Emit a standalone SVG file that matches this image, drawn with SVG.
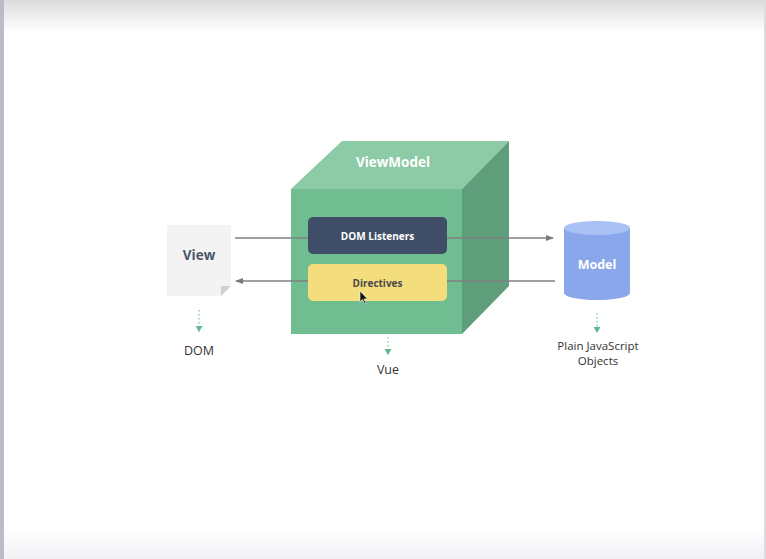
<svg xmlns="http://www.w3.org/2000/svg" width="766" height="559" viewBox="0 0 766 559">
<defs>
<linearGradient id="topg" x1="0" y1="0" x2="0" y2="1">
<stop offset="0" stop-color="#dcdcdc"/>
<stop offset="1" stop-color="#ffffff"/>
</linearGradient>
<linearGradient id="botg" x1="0" y1="0" x2="0" y2="1">
<stop offset="0" stop-color="#ffffff"/>
<stop offset="1" stop-color="#f1f0f4"/>
</linearGradient>
<marker id="ah" markerWidth="8" markerHeight="8" refX="7" refY="4" orient="auto" markerUnits="userSpaceOnUse">
<path d="M0,1 L8,4 L0,7 Z" fill="#7a7a7a"/>
</marker>
<marker id="gh" markerWidth="7" markerHeight="7" refX="6" refY="3.5" orient="auto" markerUnits="userSpaceOnUse">
<path d="M0,0 L6,3.5 L0,7 Z" fill="#5fb98b"/>
</marker>
</defs>
<style>
.t{font-family:"Open Sans","Noto Sans","Liberation Sans",sans-serif;text-anchor:middle}
.b{font-weight:bold}
.line{stroke:#808080;stroke-width:1.5;fill:none}
.dot{stroke:#8fcfae;stroke-width:1.5;stroke-dasharray:1.5 2.5;fill:none}
</style>
<rect width="766" height="559" fill="#ffffff"/>
<rect width="766" height="32" fill="url(#topg)"/>
<rect y="530" width="766" height="29" fill="url(#botg)"/>
<rect x="0" y="0" width="4" height="559" fill="#b9bdc6"/>
<rect x="764" y="0" width="2" height="559" fill="#dcdde2"/>

<g id="viewmodel">
<polygon points="291,189 342,141 509,141 462,189" fill="#8dcaa6"/>
<polygon points="462,189 509,141 509,286 462,334" fill="#5e9e7a"/>
<rect x="291" y="189" width="171" height="145" fill="#70bd91"/>
<text class="t b" x="393" y="167" font-size="13.5" fill="#ffffff">ViewModel</text>
</g>

<g id="connectors">
<line class="line" x1="235" y1="238" x2="553" y2="238" marker-end="url(#ah)"/>
<line class="line" x1="555" y1="281" x2="236" y2="281" marker-end="url(#ah)"/>
<line class="dot" x1="199" y1="310" x2="199" y2="332" marker-end="url(#gh)"/>
<line class="dot" x1="388" y1="337" x2="388" y2="355" marker-end="url(#gh)"/>
<line class="dot" x1="597" y1="313" x2="597" y2="333" marker-end="url(#gh)"/>
</g>

<g id="dom-listeners">
<rect x="308" y="217" width="139" height="37" rx="5" fill="#3f4e66"/>
<text class="t b" x="377.5" y="240" font-size="10" fill="#ffffff">DOM Listeners</text>
</g>
<g id="directives">
<rect x="308" y="264" width="139" height="37" rx="5" fill="#f4dd7c"/>
<text class="t b" x="377.5" y="287" font-size="10" fill="#4a4a4a">Directives</text>
</g>

<g id="view">
<polygon points="167,225 231,225 231,286 221,296 167,296" fill="#f3f3f3"/>
<polygon points="231,286 221,296 221,286" fill="#d0d0d0"/>
<text class="t b" x="199" y="260" font-size="13.5" fill="#4a5568">View</text>
</g>

<g id="model">
<path d="M564,228 L564,293 A33,7 0 0 0 630,293 L630,228 Z" fill="#8aa7ec"/>
<ellipse cx="597" cy="228" rx="33" ry="7" fill="#a9c0f4"/>
<text class="t b" x="597" y="269" font-size="12.5" fill="#ffffff">Model</text>
</g>

<g id="labels">
<text class="t" x="199" y="355" font-size="12.5" fill="#333333">DOM</text>
<text class="t" x="388" y="374" font-size="12.5" fill="#333333">Vue</text>
<text class="t" x="598" y="350" font-size="11.5" fill="#333333">Plain JavaScript</text>
<text class="t" x="598" y="365" font-size="11.5" fill="#333333">Objects</text>
</g>

<g id="cursor">
<path d="M360,291 L360,302 L362.5,299.5 L364.5,304 L366,303.3 L364,299 L367.5,299 Z" fill="#111111" stroke="#ffffff" stroke-width="0.6"/>
</g>
</svg>
